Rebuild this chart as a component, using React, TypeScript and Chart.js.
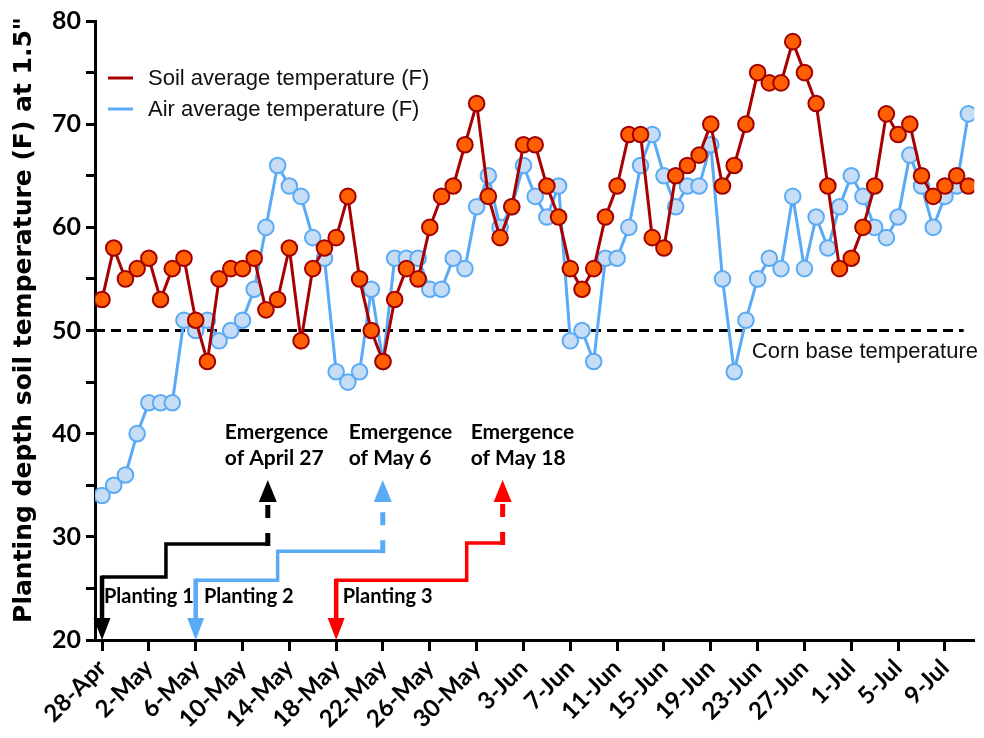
import { useEffect, useRef } from 'react';
import { Chart, registerables } from 'chart.js';

Chart.register(...registerables);

// ---- Data -------------------------------------------------------------
const tickDays = [0, 4, 8, 12, 16, 20, 24, 28, 32, 36, 40, 44, 48, 52, 56, 60, 64, 68, 72];
const tickLabels = [
  '28-Apr', '2-May', '6-May', '10-May', '14-May', '18-May', '22-May', '26-May', '30-May',
  '3-Jun', '7-Jun', '11-Jun', '15-Jun', '19-Jun', '23-Jun', '27-Jun', '1-Jul', '5-Jul', '9-Jul',
];

// daily values, day 0 = 28-Apr
const soilTemp = [
  53, 58, 55, 56, 57, 53, 56, 57, 51, 47,
  55, 56, 56, 57, 52, 53, 58, 49, 56, 58,
  59, 63, 55, 50, 47, 53, 56, 55, 60, 63,
  64, 68, 72, 63, 59, 62, 68, 68, 64, 61,
  56, 54, 56, 61, 64, 69, 69, 59, 58, 65,
  66, 67, 70, 64, 66, 70, 75, 74, 74, 78,
  75, 72, 64, 56, 57, 60, 64, 71, 69, 70,
  65, 63, 64, 65, 64,
];
const airTemp = [
  34, 35, 36, 40, 43, 43, 43, 51, 50, 51,
  49, 50, 51, 54, 60, 66, 64, 63, 59, 57,
  46, 45, 46, 54, 47, 57, 57, 57, 54, 54,
  57, 56, 62, 65, 60, 62, 66, 63, 61, 64,
  49, 50, 47, 57, 57, 60, 66, 69, 65, 62,
  64, 64, 68, 55, 46, 51, 55, 57, 56, 63,
  56, 61, 58, 62, 65, 63, 60, 59, 61, 67,
  64, 60, 63, 64, 71,
];

const cornBase = 50;
const cornLineDays = [-0.6, 73.6];
const cornLabel = 'Corn base temperature';
const cornLabelPos = [55.5, 47.3];

const seriesNames = ['Soil average temperature (F)', 'Air average temperature (F)'];
const yTitle = 'Planting depth soil temperature (F) at 1.5"';

// planting -> emergence annotations (x in days, y in °F)
const plantingDays = [0, 8, 20];
const stepDays = [5.46, 15.0, 31.15];
const emergenceDays = [14.16, 23.98, 34.22];
const lowLevels = [26.1, 25.8, 25.8];
const highLevels = [29.3, 28.6, 29.4];
const emergenceTip = 35.5;
const annotColors = ['#000000', '#5aabf5', '#ff0000'];
const plantingLabels = ['Planting 1', 'Planting 2', 'Planting 3'];
const plantingLabelDays = [0.17, 8.7, 20.56];
const plantingLabelY = 23.6;
const emergenceLine1 = ['Emergence', 'Emergence', 'Emergence'];
const emergenceLine2 = ['of April 27', 'of May 6', 'of May 18'];
const emergenceLabelDays = [10.49, 21.08, 31.49];
const emergenceLabelY = [39.5, 37.0];

const X_MIN = -0.6;
const X_MAX = 74.5;

const overlay = {
  id: 'overlay',
  afterDatasetsDraw(chart: any) {
    const { ctx, scales } = chart;
    const xs = scales.x;
    const ys = scales.y;
    const px = (v: number) => xs.getPixelForValue(v);
    const py = (v: number) => ys.getPixelForValue(v);
    ctx.save();

    // planting / emergence arrows
    for (let i = 0; i < plantingDays.length; i++) {
      const c = annotColors[i];
      ctx.strokeStyle = c;
      ctx.fillStyle = c;
      ctx.lineJoin = 'miter';
      ctx.lineCap = 'butt';
      // step line
      ctx.setLineDash([]);
      ctx.lineWidth = 3.5;
      ctx.beginPath();
      ctx.moveTo(px(plantingDays[i]), py(lowLevels[i]));
      ctx.lineTo(px(stepDays[i]), py(lowLevels[i]));
      ctx.lineTo(px(stepDays[i]), py(highLevels[i]));
      ctx.lineTo(px(emergenceDays[i]), py(highLevels[i]));
      ctx.stroke();
      // down arrow to axis
      const ax = px(plantingDays[i]);
      const tip = py(20);
      const hh = 22;
      const hw = 17;
      ctx.lineWidth = 4.5;
      ctx.beginPath();
      ctx.moveTo(ax, py(lowLevels[i]) - 1.5);
      ctx.lineTo(ax, tip - hh + 2);
      ctx.stroke();
      ctx.beginPath();
      ctx.moveTo(ax, tip);
      ctx.lineTo(ax - hw / 2, tip - hh);
      ctx.lineTo(ax + hw / 2, tip - hh);
      ctx.closePath();
      ctx.fill();
      // dashed up arrow (emergence)
      const ex = px(emergenceDays[i]);
      const etip = py(emergenceTip);
      ctx.lineWidth = 5;
      ctx.setLineDash([13, 15]);
      ctx.beginPath();
      ctx.moveTo(ex, py(highLevels[i]) + 2);
      ctx.lineTo(ex, etip + hh);
      ctx.stroke();
      ctx.setLineDash([]);
      ctx.beginPath();
      ctx.moveTo(ex, etip);
      ctx.lineTo(ex - 9, etip + hh);
      ctx.lineTo(ex + 9, etip + hh);
      ctx.closePath();
      ctx.fill();
    }

    // annotation labels
    ctx.fillStyle = '#000';
    ctx.textAlign = 'left';
    ctx.textBaseline = 'alphabetic';
    ctx.font = 'bold 20px Lato';
    for (let i = 0; i < plantingLabels.length; i++) {
      ctx.fillText(plantingLabels[i], px(plantingLabelDays[i]), py(plantingLabelY));
    }
    ctx.font = 'bold 21px Lato';
    for (let i = 0; i < emergenceLine1.length; i++) {
      ctx.fillText(emergenceLine1[i], px(emergenceLabelDays[i]), py(emergenceLabelY[0]));
      ctx.fillText(emergenceLine2[i], px(emergenceLabelDays[i]), py(emergenceLabelY[1]));
    }

    // corn base label
    ctx.font = '22px "Liberation Sans", Arial, sans-serif';
    ctx.fillStyle = '#111';
    ctx.fillText(cornLabel, px(cornLabelPos[0]), py(cornLabelPos[1]));

    // legend
    const lx = chart.chartArea.left + 13;
    const legendRows = [
      { y: 78, color: '#a80000', text: seriesNames[0] },
      { y: 109, color: '#5aabf5', text: seriesNames[1] },
    ];
    ctx.textBaseline = 'middle';
    for (const r of legendRows) {
      ctx.strokeStyle = r.color;
      ctx.lineWidth = 3;
      ctx.beginPath();
      ctx.moveTo(lx, r.y);
      ctx.lineTo(lx + 25, r.y);
      ctx.stroke();
      ctx.fillStyle = '#111';
      ctx.fillText(r.text, lx + 40, r.y + 1);
    }

    // y-axis title
    ctx.save();
    ctx.translate(24, 320);
    ctx.rotate(-Math.PI / 2);
    ctx.font = 'bold 25px "DejaVu Sans"';
    ctx.fillStyle = '#000';
    ctx.textAlign = 'center';
    ctx.textBaseline = 'middle';
    ctx.fillText(yTitle, 0, 0);
    ctx.restore();

    ctx.restore();
  },
};

export default function App() {
  const canvasRef = useRef<HTMLCanvasElement | null>(null);

  useEffect(() => {
    const canvas = canvasRef.current;
    if (!canvas) return;
    const soilPts = soilTemp.map((v, i) => ({ x: i, y: v }));
    const airPts = airTemp.map((v, i) => ({ x: i, y: v }));
    const cornPts = cornLineDays.map((d) => ({ x: d, y: cornBase }));

    const chart = new Chart(canvas, {
      type: 'line',
      data: {
        datasets: [
          {
            label: seriesNames[0],
            data: soilPts,
            borderColor: '#a80000',
            borderWidth: 3,
            pointRadius: 7.8,
            pointBorderWidth: 2,
            pointBackgroundColor: '#ff5f00',
            pointBorderColor: '#a00000',
            tension: 0,
            order: 0,
          },
          {
            label: seriesNames[1],
            data: airPts,
            borderColor: '#5aabf5',
            borderWidth: 3,
            pointRadius: 7.8,
            pointBorderWidth: 2,
            pointBackgroundColor: '#c7ddf6',
            pointBorderColor: '#5aabf5',
            tension: 0,
            order: 1,
          },
          {
            label: 'corn',
            data: cornPts,
            borderColor: '#000',
            borderWidth: 3,
            borderDash: [10, 6],
            pointRadius: 0,
            order: 2,
          },
        ],
      },
      options: {
        animation: false,
        responsive: false,
        maintainAspectRatio: false,
        devicePixelRatio: 1,
        layout: { padding: { top: 21, right: 9, left: 0, bottom: 0 } },
        plugins: {
          legend: { display: false },
          tooltip: { enabled: false },
        },
        scales: {
          x: {
            type: 'linear',
            min: X_MIN,
            max: X_MAX,
            afterBuildTicks: (s: any) => {
              s.ticks = tickDays.map((v) => ({ value: v }));
            },
            afterFit: (s: any) => {
              s.height = 98;
            },
            grid: {
              display: true,
              drawOnChartArea: false,
              drawTicks: true,
              tickLength: 11,
              tickWidth: 3,
              tickColor: '#000',
            },
            border: { display: true, color: '#000', width: 3 },
            ticks: {
              autoSkip: false,
              maxRotation: 45,
              minRotation: 45,
              padding: 3,
              color: '#000',
              font: { family: 'Lato', weight: 'bold', size: 24 },
              callback: (_v: any, i: number) => tickLabels[i],
            },
          },
          y: {
            min: 20,
            max: 80,
            afterFit: (s: any) => {
              s.width = 95;
            },
            grid: {
              display: true,
              drawOnChartArea: false,
              drawTicks: true,
              tickLength: 9,
              tickWidth: 3,
              tickColor: '#000',
            },
            border: { display: true, color: '#000', width: 3 },
            ticks: {
              stepSize: 5,
              padding: 5,
              color: '#000',
              font: { family: 'Lato', weight: 'bold', size: 25 },
              callback: (v: any) => (Number(v) % 10 === 0 ? String(v) : ''),
            },
          },
        },
      },
      plugins: [overlay],
    });
    return () => chart.destroy();
  }, []);

  return (
    <div style={{ position: 'fixed', left: 0, top: 0, width: 984, height: 738, background: '#fff' }}>
      <canvas ref={canvasRef} width={984} height={738} style={{ width: 984, height: 738, display: 'block' }} />
    </div>
  );
}
